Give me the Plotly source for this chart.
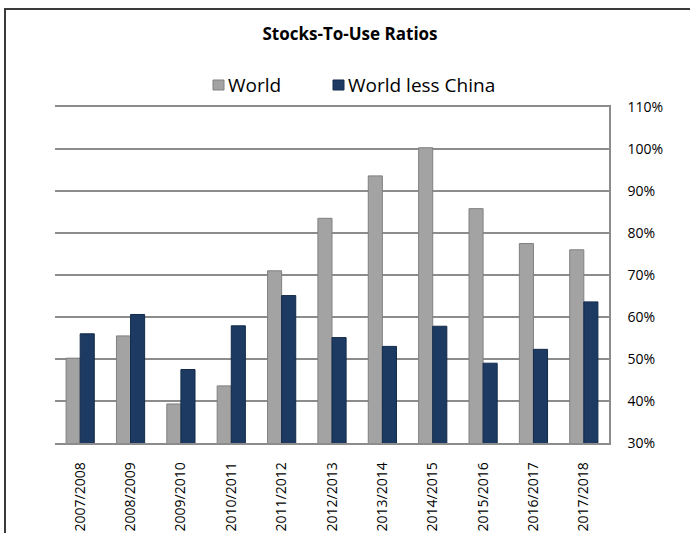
import plotly.graph_objects as go

categories = ["2007/2008", "2008/2009", "2009/2010", "2010/2011", "2011/2012",
              "2012/2013", "2013/2014", "2014/2015", "2015/2016", "2016/2017", "2017/2018"]
world = [0.502, 0.555, 0.393, 0.436, 0.710, 0.835, 0.936, 1.003, 0.858, 0.775, 0.760]
world_less_china = [0.560, 0.606, 0.475, 0.579, 0.651, 0.551, 0.530, 0.578, 0.490, 0.523, 0.636]
series_names = ["World", "World less China"]
y_ticks = [0.3, 0.4, 0.5, 0.6, 0.7, 0.8, 0.9, 1.0, 1.1]

W, H = 690, 533
ML, MR, MT, MB = 55, 81, 107, 90
PW, PH = W - ML - MR, H - MT - MB

GRAY = "#a3a3a3"
GRAY_LINE = "#808080"
BLUE = "#1d3a63"
BLUE_LINE = "#132a4a"
FONT = "Open Sans"

fig = go.Figure()
fig.add_trace(go.Bar(x=categories, y=world, name=series_names[0],
                     marker=dict(color=GRAY, line=dict(color=GRAY_LINE, width=1))))
fig.add_trace(go.Bar(x=categories, y=world_less_china, name=series_names[1],
                     marker=dict(color=BLUE, line=dict(color=BLUE_LINE, width=1))))

def px_x(px):
    return (px - ML) / PW

def px_y(py):
    return (H - MB - py) / PH

shapes = [
    dict(type="rect", xref="paper", yref="paper",
         x0=px_x(5), x1=px_x(720), y0=px_y(560), y1=px_y(9),
         line=dict(color="#3a3a3a", width=2), fillcolor="rgba(0,0,0,0)", layer="above"),
    dict(type="rect", xref="paper", yref="paper",
         x0=px_x(213), x1=px_x(224), y0=px_y(90), y1=px_y(80),
         line=dict(color=GRAY_LINE, width=1), fillcolor=GRAY),
    dict(type="rect", xref="paper", yref="paper",
         x0=px_x(333), x1=px_x(344), y0=px_y(90), y1=px_y(80),
         line=dict(color=BLUE_LINE, width=1), fillcolor=BLUE),
]

annotations = [
    dict(text=series_names[0], xref="paper", yref="paper", x=px_x(226), y=px_y(85),
         xanchor="left", yanchor="middle", showarrow=False,
         font=dict(family=FONT, size=19, color="#000000")),
    dict(text=series_names[1], xref="paper", yref="paper", x=px_x(346), y=px_y(85),
         xanchor="left", yanchor="middle", showarrow=False,
         font=dict(family=FONT, size=19, color="#000000")),
]

fig.update_layout(
    width=W, height=H,
    margin=dict(l=ML, r=MR, t=MT, b=MB, pad=0, autoexpand=False),
    paper_bgcolor="white", plot_bgcolor="white",
    title=dict(text="<b>Stocks-To-Use Ratios</b>", x=350 / W, xanchor="center",
               y=1 - 34 / H, yanchor="middle", font=dict(family=FONT, size=17, color="#000000")),
    showlegend=False,
    barmode="group", bargap=0.44, bargroupgap=0.0,
    shapes=shapes, annotations=annotations,
    xaxis=dict(showgrid=False, showline=True, mirror=True, linecolor="#8c8c8c", linewidth=1.5,
               tickangle=-90, ticks="", ticklabelstandoff=12, automargin=False,
               tickfont=dict(family=FONT, size=14, color="#000000")),
    yaxis=dict(side="right", range=[0.3, 1.1], tickvals=y_ticks, tickformat=".0%",
               showgrid=True, gridcolor="#8c8c8c", gridwidth=1.5,
               showline=True, linecolor="#8c8c8c", linewidth=1.5, automargin=False,
               zeroline=False, ticks="", ticklabelstandoff=14,
               tickfont=dict(family=FONT, size=14, color="#000000")),
)

fig.write_html("out.html")
